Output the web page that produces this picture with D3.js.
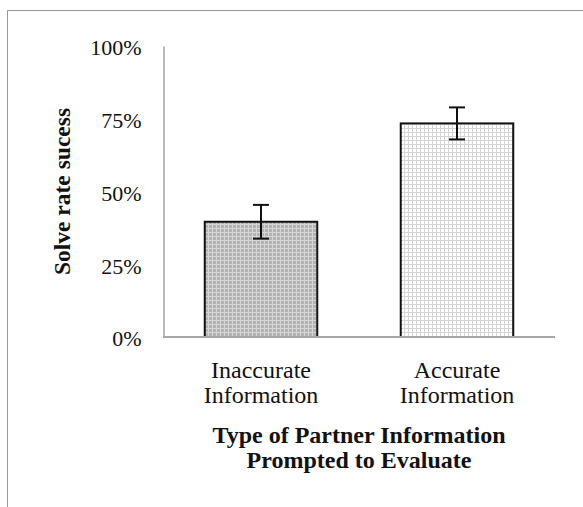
<!DOCTYPE html>
<html><head><meta charset="utf-8">
<script src="https://cdn.jsdelivr.net/npm/d3@7"></script>
<style>body{margin:0;background:#fff}svg{display:block}</style>
</head><body>
<script>
const categories = [["Inaccurate","Information"],["Accurate","Information"]];
const values = [0.396, 0.734];
const errors = [0.058, 0.055];
const yTicks = [0, 0.25, 0.5, 0.75, 1];
const yTitle = "Solve rate sucess";
const xTitle = ["Type of Partner Information","Prompted to Evaluate"];

const W = 583, H = 507;
const svg = d3.select("body").append("svg").attr("width", W).attr("height", H);
const defs = svg.append("defs");
function grid(id, bg, line){
  const p = defs.append("pattern").attr("id", id).attr("patternUnits","userSpaceOnUse")
    .attr("width",4).attr("height",4);
  p.append("rect").attr("width",4).attr("height",4).attr("fill",bg);
  p.append("path").attr("d","M0,0.5H4M0.5,0V4").attr("stroke",line).attr("stroke-width",1);
}
grid("p0","#b3b3b3","#d6d6d6");
grid("p1","#ffffff","#d4d4d4");

// frame
svg.append("path").attr("d","M7.5,507V10.5H583").attr("fill","none").attr("stroke","#999").attr("stroke-width",1);

const x = d3.scaleBand().domain([0,1]).range([163,555]).paddingInner(0.426).paddingOuter(0.213);
const y = d3.scaleLinear().domain([0,1]).range([337,46]);

const serif = "'Liberation Serif','Times New Roman',serif";

// y axis
const ya = svg.append("g").attr("transform","translate(163.5,0)")
  .call(d3.axisLeft(y).tickValues(yTicks).tickFormat(d3.format(".0%")).tickSize(0).tickPadding(22));
ya.select(".domain").attr("stroke","#8c8c8c").attr("stroke-width",1.2);
ya.selectAll("text").attr("font-family",serif).attr("font-size",22).attr("fill","#111").attr("dy","0.4em");

// bars
svg.selectAll("rect.bar").data(values).join("rect").attr("class","bar")
  .attr("x",(d,i)=>x(i)).attr("width",x.bandwidth())
  .attr("y",d=>y(d)).attr("height",d=>y(0)-y(d))
  .attr("fill",(d,i)=>`url(#p${i})`).attr("stroke","#111").attr("stroke-width",2);

// baseline
svg.append("line").attr("x1",163).attr("x2",555).attr("y1",y(0)).attr("y2",y(0))
  .attr("stroke","#a6a6a6").attr("stroke-width",2);

// error bars
const eb = svg.selectAll("g.err").data(values).join("g").attr("class","err");
eb.append("line").attr("x1",(d,i)=>x(i)+x.bandwidth()/2).attr("x2",(d,i)=>x(i)+x.bandwidth()/2)
  .attr("y1",(d,i)=>y(d+errors[i])).attr("y2",(d,i)=>y(d-errors[i])).attr("stroke","#111").attr("stroke-width",2);
[1,-1].forEach(s=>{
  eb.append("line").attr("x1",(d,i)=>x(i)+x.bandwidth()/2-8).attr("x2",(d,i)=>x(i)+x.bandwidth()/2+8)
    .attr("y1",(d,i)=>y(d+s*errors[i])).attr("y2",(d,i)=>y(d+s*errors[i])).attr("stroke","#111").attr("stroke-width",2);
});

// category labels
categories.forEach((lines,i)=>{
  const t = svg.append("text").attr("text-anchor","middle").attr("font-family",serif)
    .attr("font-size",24).attr("fill","#111");
  lines.forEach((l,j)=>t.append("tspan").attr("x",x(i)+x.bandwidth()/2).attr("y",378+j*25).text(l));
});

// x title
const xt = svg.append("text").attr("text-anchor","middle").attr("font-family",serif)
  .attr("font-size",24).attr("font-weight","bold").attr("fill","#111");
xTitle.forEach((l,j)=>xt.append("tspan").attr("x",359).attr("y",443+j*25).text(l));

// y title
svg.append("text").attr("transform",`translate(70,${(y(0)+y(1))/2}) rotate(-90)`)
  .attr("text-anchor","middle").attr("font-family",serif).attr("font-size",23.5)
  .attr("font-weight","bold").attr("fill","#111").text(yTitle);
</script>
</body></html>
